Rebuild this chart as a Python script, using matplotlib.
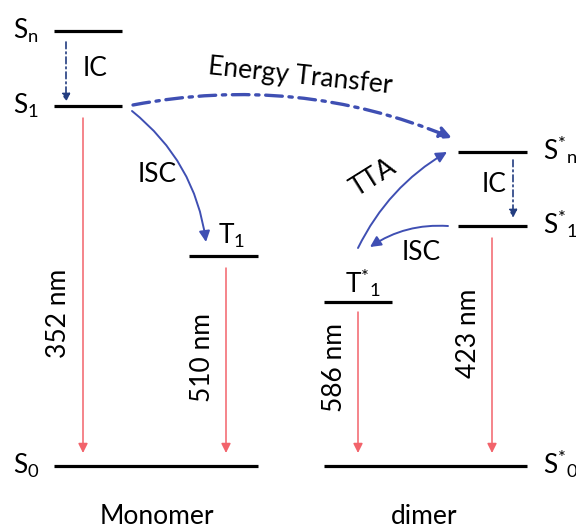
import matplotlib.pyplot as plt
from matplotlib.patches import FancyArrowPatch

plt.rcParams['font.family'] = ['Lato', 'DejaVu Sans']
plt.rcParams['mathtext.fontset'] = 'custom'
plt.rcParams['mathtext.rm'] = 'Lato'
plt.rcParams['mathtext.it'] = 'Lato'

# energy levels: label, x start, x end, height (pixel rows of the diagram)
level_labels = ['S$_\\mathregular{n}$', 'S$_\\mathregular{1}$', 'T$_\\mathregular{1}$', 'S$_\\mathregular{0}$',
                'S$^{*}{}_\\mathregular{n}$', 'S$^{*}{}_\\mathregular{1}$', 'T$^{*}{}_\\mathregular{1}$',
                'S$^{*}{}_\\mathregular{0}$']
level_x0 = [54, 54, 189, 54, 458, 458, 324, 324]
level_x1 = [122, 122, 258, 258, 527, 527, 392, 527]
level_y = [31, 106, 256, 466, 152, 226, 302, 466]

# emission lines (wavelength labels)
emission_labels = ['352 nm', '510 nm', '586 nm', '423 nm']
emission_x = [83, 226, 358, 492]
emission_top = [118, 268, 312, 238]

blue = '#3f4fb3'
navy = '#233d80'
red = '#f2636b'

fig = plt.figure(figsize=(5.76, 5.29), dpi=100)
ax = fig.add_axes([0, 0, 1, 1])
ax.set_xlim(0, 576)
ax.set_ylim(529, 0)
ax.axis('off')

for x0, x1, y in zip(level_x0, level_x1, level_y):
    ax.plot([x0, x1], [y, y], color='black', lw=2.3, solid_capstyle='butt')

# level labels (the right-hand ones run past the edge, as in the original)
fs = 19
ax.text(13, 31, level_labels[0], fontsize=fs, va='center', ha='left')
ax.text(13, 106, level_labels[1], fontsize=fs, va='center', ha='left')
ax.text(13, 466, level_labels[3], fontsize=fs, va='center', ha='left')
ax.text(218, 236, level_labels[2], fontsize=fs, va='center', ha='left')
ax.text(345, 283, level_labels[6], fontsize=fs, va='center', ha='left')
ax.text(543, 150, level_labels[4], fontsize=fs, va='center', ha='left')
ax.text(543, 224, level_labels[5], fontsize=fs, va='center', ha='left')
ax.text(543, 464, level_labels[7], fontsize=fs, va='center', ha='left')

# emissions
for lab, x, top in zip(emission_labels, emission_x, emission_top):
    ax.add_patch(FancyArrowPatch((x, top), (x, 453), arrowstyle='-|>', mutation_scale=14,
                                 color=red, lw=1.1, shrinkA=0, shrinkB=0))
ax.text(59, 313, emission_labels[0], fontsize=fs, rotation=90, va='center', ha='center')
ax.text(202, 358, emission_labels[1], fontsize=fs, rotation=90, va='center', ha='center')
ax.text(334, 367, emission_labels[2], fontsize=fs, rotation=90, va='center', ha='center')
ax.text(469, 333, emission_labels[3], fontsize=fs, rotation=90, va='center', ha='center')

# internal conversion
for x, y0, y1 in [(66, 42, 102), (513, 160, 218)]:
    ax.add_patch(FancyArrowPatch((x, y0), (x, y1), arrowstyle='-|>', mutation_scale=12,
                                 color=navy, lw=1.2, linestyle=(0, (4, 2, 1, 2)),
                                 shrinkA=0, shrinkB=0))
ax.text(95, 68, 'IC', fontsize=fs, va='center', ha='center')
ax.text(494, 184, 'IC', fontsize=fs, va='center', ha='center')

# energy transfer
ax.add_patch(FancyArrowPatch((133, 105), (452, 138), connectionstyle='arc3,rad=-0.15',
                             arrowstyle='-|>', mutation_scale=18, color=blue, lw=2.4,
                             linestyle=(0, (5, 2, 1, 2)), shrinkA=0, shrinkB=0))
ax.text(300, 76, 'Energy Transfer', fontsize=fs, rotation=-6, va='center', ha='center')

# ISC monomer
ax.add_patch(FancyArrowPatch((132, 111), (206, 242), connectionstyle='arc3,rad=-0.2',
                             arrowstyle='-|>', mutation_scale=16, color=blue, lw=1.4,
                             shrinkA=0, shrinkB=0))
ax.text(157, 175, 'ISC', fontsize=fs, va='center', ha='center')

# TTA
ax.add_patch(FancyArrowPatch((358, 248), (447, 152), connectionstyle='arc3,rad=-0.15',
                             arrowstyle='-|>', mutation_scale=16, color=blue, lw=1.4,
                             shrinkA=0, shrinkB=0))
ax.text(373, 178, 'TTA', fontsize=fs, rotation=32, va='center', ha='center')

# ISC dimer
ax.add_patch(FancyArrowPatch((448, 226), (370, 247), connectionstyle='arc3,rad=0.17',
                             arrowstyle='-|>', mutation_scale=16, color=blue, lw=1.4,
                             shrinkA=0, shrinkB=0))
ax.text(421, 252, 'ISC', fontsize=fs, va='center', ha='center')

ax.text(157, 516, 'Monomer', fontsize=fs, va='center', ha='center')
ax.text(424, 516, 'dimer', fontsize=fs, va='center', ha='center')

fig.savefig('out.png', dpi=100)
